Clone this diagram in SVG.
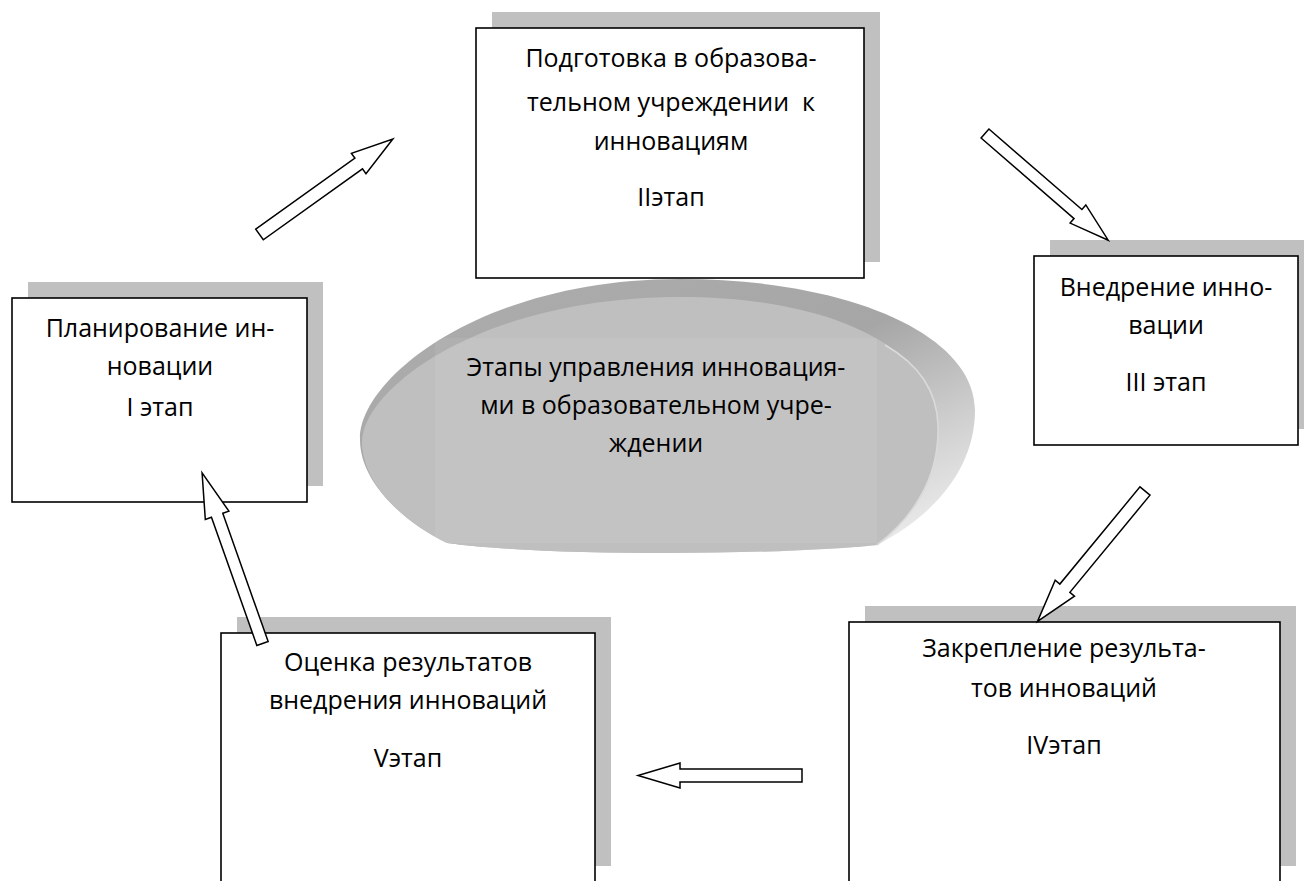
<svg xmlns="http://www.w3.org/2000/svg" width="1304" height="881" viewBox="0 0 1304 881">
<style>
.sh{fill:#c0c0c0}
.bx{fill:#fff;stroke:#000;stroke-width:1.6}
.t{font-family:"Open Sans","DejaVu Sans",sans-serif;font-size:25px;fill:#000;text-anchor:middle;white-space:pre}
.ar{fill:#fff;stroke:#000;stroke-width:1.5;stroke-linejoin:miter}
</style>
<defs>
<linearGradient id="gBack" x1="0.2" y1="0" x2="1" y2="0.8">
<stop offset="0" stop-color="#acacac"/>
<stop offset="0.5" stop-color="#a6a6a6"/>
<stop offset="0.8" stop-color="#cfcfcf"/>
<stop offset="1" stop-color="#e8e8e8"/>
</linearGradient>
</defs>
<rect width="1304" height="881" fill="#fff"/>

<g id="center">
<path d="M680,279 C850,279 975,335 975,410 C975,468 935,515 877,545 C770,556 540,556 447,543 C400,520 360,480 360,440 C358,380 480,279 680,279 Z" fill="url(#gBack)"/>
<path d="M680,297 C835,297 935,350 938,425 C940,480 910,520 877,545 C770,556 540,556 447,543 C400,520 362,482 362,442 C362,390 480,297 680,297 Z" fill="#bfbfbf"/>
<path d="M885,345 C920,365 937,393 938,425 C940,480 910,520 877,545" fill="none" stroke="#dadada" stroke-width="1.6"/>
<rect x="435" y="338" width="442" height="205" fill="#fff" fill-opacity="0.07"/>
<text class="t" x="656" y="376">Этапы управления инновация-</text>
<text class="t" x="656" y="414">ми в образовательном учре-</text>
<text class="t" x="656" y="452">ждении</text>
</g>

<g id="stage1">
<rect class="sh" x="28" y="282" width="295" height="204"/>
<rect class="bx" x="12" y="298" width="295" height="204"/>
<text class="t" x="160" y="337">Планирование ин-</text>
<text class="t" x="160" y="375">новации</text>
<text class="t" x="160" y="416">I этап</text>
</g>

<g id="stage2">
<rect class="sh" x="492" y="12" width="388" height="250"/>
<rect class="bx" x="476" y="28" width="388" height="250"/>
<text class="t" x="671" y="67">Подготовка в образова-</text>
<text class="t" x="671" y="111">тельном учреждении  к</text>
<text class="t" x="671" y="150">инновациям</text>
<text class="t" x="671" y="206">IIэтап</text>
</g>

<g id="stage3">
<rect class="sh" x="1050" y="240" width="264" height="189"/>
<rect class="bx" x="1034" y="256" width="264" height="189"/>
<text class="t" x="1166" y="296">Внедрение инно-</text>
<text class="t" x="1166" y="334">вации</text>
<text class="t" x="1166" y="391">III этап</text>
</g>

<g id="stage4">
<rect class="sh" x="865" y="606" width="431" height="260"/>
<rect class="bx" x="849" y="622" width="431" height="270"/>
<text class="t" x="1064" y="657">Закрепление результа-</text>
<text class="t" x="1064" y="697">тов инноваций</text>
<text class="t" x="1064" y="754">IVэтап</text>
</g>

<g id="stage5">
<rect class="sh" x="237" y="617" width="374" height="249"/>
<rect class="bx" x="221" y="633" width="374" height="270"/>
<text class="t" x="408" y="671">Оценка результатов</text>
<text class="t" x="408" y="709">внедрения инноваций</text>
<text class="t" x="408" y="767">Vэтап</text>
</g>

<g id="connectors">
<polygon class="ar" transform="translate(259.5,234.5) rotate(-35.6)" points="0,-6.5 122,-6.5 122,-12.5 164,0 122,12.5 122,6.5 0,6.5"/>
<polygon class="ar" transform="translate(985,133.5) rotate(40.9)" points="0,-6 123,-6 123,-12 163,0 123,12 123,6 0,6"/>
<polygon class="ar" transform="translate(1145,491) rotate(129.5)" points="0,-6.5 126,-6.5 126,-12.5 169,0 126,12.5 126,6.5 0,6.5"/>
<polygon class="ar" transform="translate(802,775.5) rotate(180)" points="0,-6.5 122,-6.5 122,-12.5 164,0 122,12.5 122,6.5 0,6.5"/>
<polygon class="ar" transform="translate(262.5,643.5) rotate(-109.5)" points="0,-6 136,-6 136,-12.5 181,0 136,12.5 136,6 0,6"/>
</g>
</svg>
